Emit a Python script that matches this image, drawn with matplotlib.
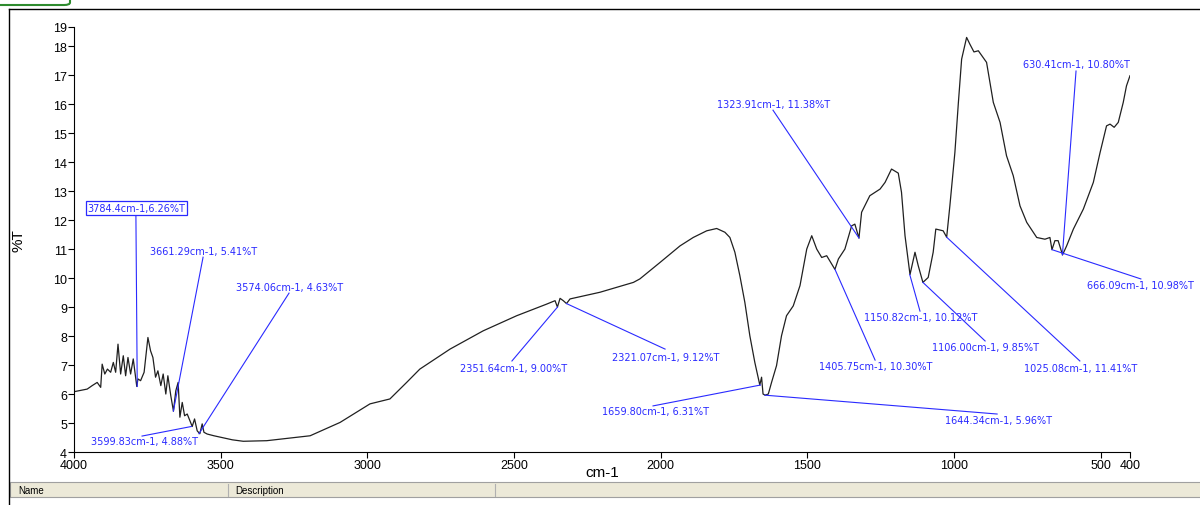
import matplotlib
matplotlib.use("Agg")
import matplotlib.pyplot as plt
from matplotlib.patches import Rectangle, FancyBboxPatch
from matplotlib.lines import Line2D

plt.rcParams['font.family'] = ['Liberation Sans', 'DejaVu Sans']

# spectrum (wavenumber cm-1, %T)
wn = [4000, 3955, 3938, 3921, 3909, 3904, 3895, 3886, 3875, 3866, 3858, 3850,
      3841, 3832, 3824, 3816, 3807, 3798, 3786, 3782, 3773, 3761, 3748, 3739,
      3731, 3722, 3714, 3704, 3696, 3687, 3680, 3670, 3661, 3653, 3645, 3639,
      3631, 3623, 3614, 3605, 3597, 3589, 3580, 3571, 3563, 3557, 3546, 3523,
      3500, 3460, 3423, 3343, 3195, 3093, 2991, 2923, 2866, 2821, 2718, 2605,
      2491, 2389, 2360, 2352, 2343, 2332, 2321, 2309, 2207, 2093, 2071, 2002,
      1934, 1889, 1843, 1809, 1781, 1764, 1747, 1730, 1713, 1696, 1679, 1662,
      1656, 1651, 1644, 1633, 1622, 1605, 1588, 1571, 1548, 1525, 1502, 1485,
      1468, 1451, 1434, 1406, 1394, 1372, 1349, 1338, 1324, 1315, 1287, 1252,
      1235, 1213, 1190, 1179, 1167, 1150, 1133, 1122, 1106, 1088, 1071, 1062,
      1037, 1025, 1014, 997, 985, 974, 957, 946, 932, 917, 889, 866,
      843, 821, 798, 775, 752, 718, 690, 673, 666, 656, 645, 630,
      616, 593, 559, 525, 502, 480, 468, 454, 440, 423, 412, 400]
trans = [6.08, 6.17, 6.29, 6.40, 6.23, 7.03, 6.69, 6.86, 6.75, 7.09, 6.75, 7.72,
         6.69, 7.32, 6.63, 7.26, 6.69, 7.21, 6.26, 6.52, 6.46, 6.75, 7.95, 7.49,
         7.26, 6.58, 6.80, 6.29, 6.69, 6.00, 6.63, 5.94, 5.41, 6.11, 6.40, 5.20,
         5.71, 5.25, 5.31, 5.08, 4.88, 5.14, 4.73, 4.63, 4.97, 4.68, 4.62, 4.56,
         4.51, 4.42, 4.37, 4.39, 4.56, 5.02, 5.66, 5.83, 6.40, 6.86, 7.55, 8.18,
         8.70, 9.10, 9.22, 9.00, 9.30, 9.22, 9.12, 9.28, 9.51, 9.85, 9.97, 10.54,
         11.11, 11.40, 11.63, 11.71, 11.58, 11.40, 10.89, 10.08, 9.16, 8.01, 7.09, 6.31,
         6.58, 6.00, 5.96, 6.00, 6.40, 6.98, 8.01, 8.70, 9.04, 9.74, 11.00, 11.46,
         11.00, 10.71, 10.77, 10.30, 10.66, 11.00, 11.80, 11.86, 11.38, 12.27, 12.84, 13.07,
         13.30, 13.76, 13.62, 12.96, 11.46, 10.12, 10.89, 10.43, 9.85, 10.02, 10.89, 11.69,
         11.63, 11.41, 12.50, 14.33, 16.06, 17.55, 18.30, 18.07, 17.80, 17.84, 17.44, 16.06,
         15.37, 14.22, 13.53, 12.49, 11.92, 11.40, 11.34, 11.40, 10.98, 11.29, 11.29, 10.80,
         11.11, 11.69, 12.38, 13.30, 14.33, 15.25, 15.31, 15.20, 15.37, 16.06, 16.63, 16.98]

# peak labels
peak_wn = [3784.4, 3661.29, 3574.06, 3599.83, 2351.64, 2321.07, 1659.80, 1644.34,
           1405.75, 1150.82, 1106.00, 1025.08, 1323.91, 630.41, 666.09]
peak_t = [6.26, 5.41, 4.63, 4.88, 9.00, 9.12, 6.31, 5.96,
          10.30, 10.12, 9.85, 11.41, 11.38, 10.80, 10.98]
peak_txt = ["3784.4cm-1,6.26%T", "3661.29cm-1, 5.41%T", "3574.06cm-1, 4.63%T",
            "3599.83cm-1, 4.88%T", "2351.64cm-1, 9.00%T", "2321.07cm-1, 9.12%T",
            "1659.80cm-1, 6.31%T", "1644.34cm-1, 5.96%T", "1405.75cm-1, 10.30%T",
            "1150.82cm-1, 10.12%T", "1106.00cm-1, 9.85%T", "1025.08cm-1, 11.41%T",
            "1323.91cm-1, 11.38%T", "630.41cm-1, 10.80%T", "666.09cm-1, 10.98%T"]

# where each label sits (text centre) and where its leader starts
txt_pos = [(3787, 12.41), (3557, 10.93), (3264, 9.69), (3761, 4.38), (2503, 6.90),
           (1982, 7.28), (2019, 5.41), (850, 5.10), (1266, 6.97), (1113, 8.66),
           (894, 7.62), (567, 6.90), (1614, 16.0), (584, 17.38), (363, 9.76)]
line_start = [(3789, 12.21), (3560, 10.72), (3267, 9.48), (3768, 4.55), (2507, 7.14),
              (1985, 7.55), (2026, 5.59), (853, 5.31), (1269, 7.17), (1116, 8.86),
              (894, 7.83), (571, 7.14), (1617, 15.79), (584, 17.14), (363, 9.97)]

blue = '#2a2aff'

fig = plt.figure(figsize=(12, 5.06), dpi=100)
ax = fig.add_axes([74/1200, 1-453/506, (1130-74)/1200, (453-28)/506])

ax.plot(wn, trans, color='#202020', lw=0.9)

for i in range(len(peak_wn)):
    x0, y0 = line_start[i]
    ax.plot([x0, peak_wn[i]], [y0, peak_t[i]], color=blue, lw=0.8, clip_on=False)
    tx, ty = txt_pos[i]
    if i == 0:
        ax.text(tx, ty, peak_txt[i], color=blue, fontsize=7, family='DejaVu Sans',
                ha='center', va='center', clip_on=False,
                bbox=dict(boxstyle='square,pad=0.2', fc='white', ec=blue, lw=0.9))
    else:
        ax.text(tx, ty, peak_txt[i], color=blue, fontsize=7, family='DejaVu Sans',
                ha='center', va='center', clip_on=False)

ax.set_xlim(4000, 400)
ytop = 18.66
ax.set_ylim(4, ytop)
ax.set_xticks([4000, 3500, 3000, 2500, 2000, 1500, 1000, 500, 400])
ax.set_xticklabels(['4000', '3500', '3000', '2500', '2000', '1500', '1000', '500', '400'])
ax.set_yticks(list(range(4, 19)) + [ytop])
ax.set_yticklabels([str(v) for v in range(4, 19)] + ['19'])
ax.spines['top'].set_visible(False)
ax.spines['right'].set_visible(False)
ax.tick_params(direction='out', length=4, width=0.8, labelsize=9, pad=1)
ax.set_xlabel('cm-1', fontsize=11)
ax.xaxis.set_label_coords(0.5, -13/425)
ax.set_ylabel('%T', fontsize=11, labelpad=20)

# window frame and the list panel underneath
fig.add_artist(Line2D([9/1200, 1], [1-10/506, 1-10/506], color='black', lw=1))
fig.add_artist(Line2D([9/1200, 9/1200], [1-10/506, 0], color='black', lw=1))
fig.add_artist(Rectangle((10/1200, 1-498/506), 1, 15/506, fc='#ece9d8', ec='#a0a0a0', lw=0.8))
fig.add_artist(Line2D([228/1200, 228/1200], [1-497/506, 1-485/506], color='#b0b0b0', lw=0.8))
fig.add_artist(Line2D([495/1200, 495/1200], [1-497/506, 1-485/506], color='#b0b0b0', lw=0.8))
fig.text(18/1200, 1-491/506, 'Name', fontsize=7, va='center')
fig.text(235/1200, 1-491/506, 'Description', fontsize=7, va='center')
fig.add_artist(FancyBboxPatch((-10/1200, 1-6/506), 80/1200, 12/506,
                              boxstyle='round,pad=0,rounding_size=0.005',
                              fc='white', ec='#2e8b2e', lw=1.5))

fig.savefig('out.png', dpi=100)
